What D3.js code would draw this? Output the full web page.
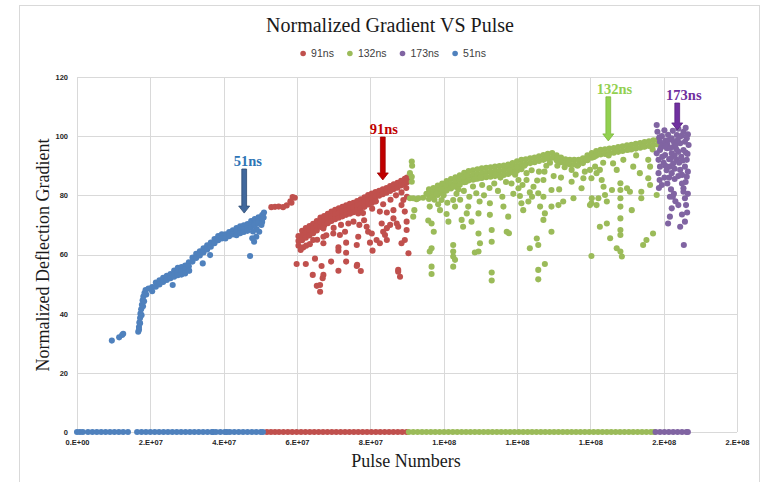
<!DOCTYPE html>
<html><head><meta charset="utf-8">
<script src="https://cdn.jsdelivr.net/npm/d3@7"></script>
<style>body{margin:0;background:#fff}svg{display:block}</style>
</head><body><svg id="c" width="765" height="482"></svg>
<script>
// ---------------- DATA (pulse numbers in millions) ----------------
const xTickValues = [0, 20, 40, 60, 80, 100, 120, 140, 160, 180];
const xTickLabels = ["0.E+00","2.E+07","4.E+07","6.E+07","8.E+07","1.E+08","1.E+08","1.E+08","2.E+08","2.E+08"];
const yTickValues = [0, 20, 40, 60, 80, 100, 120];
const legendNames = ["91ns", "132ns", "173ns", "51ns"];

// points lying on the zero line
const zero51 = [0,0.8,1.6,3.0,4.2,5.4,6.6,7.8,9.0,10.2,11.4,12.6,13.9,16.4,17.6,18.8,20.0,21.2,22.4,23.6,24.8,26.0,27.2,28.4,29.6,30.8,32.0,33.2,34.4,35.6,36.8,37.1,37.9,39.1,40.3,40.9,41.7,42.9,44.1,45.3,46.5,47.7,48.9,50.1,50.7];
const zero91 = [51.8,52.9,54.0,55.1,56.3,57.5,58.7,59.9,61.1,62.3,63.5,64.7,65.9,67.1,68.3,69.5,70.7,71.9,73.1,74.3,75.5,76.7,77.9,79.1,80.3,81.5,82.7,83.9,85.1,86.3,87.5,88.7,89.9];
const zero132 = [90.5,91.7,92.9,94.1,95.3,96.5,97.7,98.9,100.1,101.3,102.5,103.7,104.9,106.1,107.3,108.5,109.7,110.9,112.1,113.3,114.5,115.7,116.9,118.1,119.3,120.5,121.7,122.9,124.1,125.3,126.5,127.7,128.9,130.1,131.3,132.5,133.7,134.9,136.1,137.3,138.5,139.7,140.9,142.1,143.3,144.5,145.7,146.9,148.1,149.3,150.5,151.7,152.9,154.1,155.3,156.5,157.4];
const zero173 = [157.8,159.0,160.2,161.4,162.6,163.8,165.0,166.2,166.6];

// 51ns
const blueBandX = [20.5,21.5,22.5,23.5,24.5,25.5,26.5,27.5,28.5,29.5,30.5,31.5,32.5,33.5,34.5,35.5,36.5,37.5,38.5,39.5,40.5,41.5,42.5,43.5,44.5,45.5,46.5,47.5,48.5,49.5,50.5];
const blueBandRow1 = [49.0,50.5,51.3,52.1,52.8,53.4,54.6,55.5,55.8,56.3,57.4,59.0,60.2,61.1,62.1,63.1,64.0,65.2,66.2,66.8,66.8,67.6,68.2,68.9,69.5,69.9,70.3,71.3,72.0,72.6,73.3];
const blueBandRow2 = [47.6,49.1,49.9,50.7,51.4,52.0,53.2,54.1,54.4,54.9,56.0,57.6,58.8,59.7,60.7,61.7,62.6,63.8,64.8,65.4,65.4,66.2,66.8,67.5,68.1,68.5,68.9,69.9,70.6,71.2,71.9];
const blueOther = [[9.5,30.9],[11.5,32.0],[12.3,32.8],[12.6,33.2],
  [16.7,33.9],[16.9,35.5],[17.0,37.0],[17.2,38.5],[17.3,40.0],[17.5,41.5],[17.7,43.0],[17.9,44.5],[18.1,45.8],[18.4,47.0],[18.7,48.0],[17.6,39.5],[18.0,42.5],[18.3,44.2],[16.9,34.6],[17.2,36.8],[18.9,46.5],[19.5,48.5],
  [26.5,52.5],[27.5,53.0],[28.5,53.2],[29.5,53.6],[30.5,54.6],[43.5,66.5],[44.5,67.2],[45.5,67.6],[46.5,68.0],[47.5,69.2],[48.5,70.0],[49.5,70.5],[50.5,71.0],[50.9,72.5],[51.0,74.2],
  [26.1,49.7],[30.6,54.5],[34.3,57.0],[36.3,59.8],[47.2,59.5],[49.7,67.7],[48.3,64.3],[48.9,66.0],[47.8,65.5],[50.3,70.0],[49.0,68.5],[48.0,67.8]];

// 91ns
const redBandX = [60.4,61.4,62.4,63.4,64.4,65.4,66.4,67.4,68.4,69.4,70.4,71.4,72.4,73.4,74.4,75.4,76.4,77.4,78.4,79.4,80.4,81.4,82.4,83.4,84.4,85.4,86.4,87.4,88.4,89.4,90.0];
const redBandRow1 = [66.2,68.0,68.9,69.6,70.4,71.3,72.5,73.0,73.8,74.5,75.1,75.6,76.1,76.6,77.1,77.5,78.1,78.7,79.3,80.1,80.6,81.1,81.5,82.0,82.5,83.1,83.7,84.2,84.9,85.6,86.0];
const redBandRow2 = [64.6,66.4,67.3,68.0,68.8,69.7,70.9,71.4,72.2,72.9,73.5,74.0,74.5,75.0,75.5,75.9,76.5,77.1,77.7,78.5,79.0,79.5,79.9,80.4,80.9,81.5,82.1,82.6,83.3,84.0,84.4];
const redBandRow3 = [63.0,64.8,65.7,66.4,67.2,68.1,69.3,69.8,70.6,71.3,71.9,72.4,72.9,73.4,73.9,74.3,74.9,75.5,76.1,76.9,77.4,77.9];
const redOther = [[53.0,76.0],[54.0,76.1],[55.0,76.2],[56.2,76.0],[57.2,76.6],[58.2,78.0],[58.8,79.4],[59.4,79.2],[58.5,77.5],
  [61.7,62.4],[59.9,56.8],[62.4,56.8],[64.9,58.6],[64.3,53.1],[66.7,56.1],[67.2,53.1],[67.0,52.0],[65.4,49.4],[66.3,47.4],[69.3,57.6],[71.3,62.4],[71.3,61.3],[73.4,64.0],[73.4,60.6],[73.4,57.6],[71.3,54.5],[76.3,63.2],[76.3,56.1],[77.4,54.4],[80.6,61.3],[79.9,64.0],[81.7,64.9],[82.6,63.8],[84.5,64.9],[87.6,54.8],[88.1,52.5],[89.4,64.9],[89.9,71.1],[87.2,70.5],[85.4,70.0],[89.4,74.5],
  [67.2,68.8],[67.2,66.0],[69.9,67.1],[71.7,66.6],[74.5,73.9],[75.4,71.1],[76.7,73.9],[77.0,70.0],[78.3,71.6],[79.0,69.4],[79.4,67.7],[82.6,74.5],[84.5,74.2],[84.5,68.9],[84.0,66.6],[83.1,70.5],[86.3,75.0],[86.3,72.2],[89.0,78.4],[88.5,76.7],
  [64.4,64.9],[67.2,63.8],[66.3,49.7],[76.4,56.5],[87.6,54.2],[90.4,60.4],[88.5,63.8],[73.1,67.7],[76.7,66.0],[80.4,67.1],[83.5,67.7],[87.6,69.4],[89.9,68.3],
  [61.0,61.5],[62.5,63.0],[63.5,63.5],[65.5,65.0],[68.0,66.5],[70.0,69.0],[72.0,70.0],[74.0,70.5],[78.0,74.0],[80.5,75.5],[81.5,78.0],[83.5,77.0],[85.5,78.5],[87.0,80.0],[88.5,81.0],[89.8,82.5],[90.3,85.0],[90.0,79.5]];

// 132ns
const greenBandX = [96.0,97.2,98.4,99.6,100.8,102.0,103.2,104.4,105.6,106.8,108.0,109.2,110.4,111.6,112.8,114.0,115.2,116.4,117.6,118.8,120.0,121.2,122.4,123.6,124.8,126.0,127.2,128.4,129.6,130.8,132.0,133.2,134.4,135.6,136.8,138.0,139.2,140.4,141.6,142.8,144.0,145.2,146.4,147.6,148.8,150.0,151.2,152.4,153.6,154.8,156.0,157.2,158.4];
const greenBandRow1 = [82.0,82.5,83.3,84.0,84.8,85.5,86.1,86.8,87.6,88.2,88.5,88.8,89.1,89.3,89.5,89.7,89.9,90.1,90.4,90.9,91.5,92.0,92.2,92.5,92.8,93.2,93.6,94.0,94.3,93.5,92.8,92.2,92.0,92.0,92.0,92.5,93.5,94.3,95.0,95.4,95.6,95.8,96.0,96.3,96.6,96.9,97.1,97.4,97.7,98.0,98.3,98.6,98.8];
const greenBandRow2 = [80.4,80.9,81.7,82.4,83.2,83.9,84.5,85.2,86.0,86.6,86.9,87.2,87.5,87.7,87.9,88.1,88.3,88.5,88.8,89.3,89.9,90.4,90.6,90.9,91.2,91.6,92.0,92.4,92.7,91.9,91.2,90.6,90.4,90.4,90.4,90.9,91.9,92.7,93.4,93.8,94.0,94.2,94.4,94.7,95.0,95.3,95.5,95.8,96.1,96.4,96.7,97.0,97.2];
const greenBandRow3 = [78.8,79.3,80.1,80.8,81.6,82.3,82.9,83.6,84.4,85.0,85.3,85.6,85.9,86.1,86.3,86.5,86.7,86.9,87.2,87.7,88.3,88.8];
const greenOther = [[91.3,91.4],[91.4,90.0],[90.8,87.5],[91.3,84.6],[91.3,86.3],[92.6,78.7],[90.8,79.0],[92.0,75.0],[91.7,72.8],[91.7,79.0],[93.1,79.0],[94.4,79.2],[95.3,80.5],
  [96.2,76.2],[96.7,70.5],[95.8,71.5],[97.3,67.7],[96.7,62.1],[96.2,61.0],[96.7,55.9],[96.7,53.4],[99.4,78.4],[99.0,75.0],[100.8,73.7],[101.3,71.1],[102.6,78.4],[103.1,76.2],[102.6,63.2],[102.6,61.0],[102.6,59.3],[103.1,58.2],[102.6,55.9],[104.9,71.7],[105.3,69.4],[106.3,73.9],[106.7,76.2],[107.6,71.1],[108.9,80.7],[109.8,77.9],[109.5,73.9],[109.5,67.1],[108.5,60.7],[109.5,61.0],[109.9,63.8],[112.6,77.3],[112.6,73.4],[113.1,68.3],[113.1,64.3],[113.1,53.9],[113.1,51.2],[116.3,76.2],[117.6,72.8],[117.2,67.7],[117.8,67.2],[120.4,85.2],[120.4,82.4],[120.8,79.8],[121.2,77.3],[121.7,75.0],[123.1,77.9],[122.6,87.5],[122.6,85.2],[124.5,82.9],[124.1,79.5],[125.8,80.7],[126.3,76.2],[127.2,85.2],[127.2,79.5],[127.6,73.9],[127.2,71.7],[125.4,65.4],[125.8,63.2],[123.5,62.1],[125.8,54.8],[125.8,51.6],[127.6,56.8],[129.4,81.8],[129.4,76.2],[129.4,67.7],[131.3,76.7],[132.6,77.9],[134.9,88.6],[134.9,84.6],[135.4,79.0],[137.6,82.4],[139.9,88.6],[140.3,85.8],[140.3,77.3],[140.3,59.5],[141.7,87.5],
  [138.1,85.8],[140.4,79.0],[139.9,76.7],[141.3,89.7],[142.2,79.0],[141.7,76.7],[142.6,88.6],[143.1,85.2],[143.6,82.9],[144.0,80.1],[144.5,77.9],[142.6,69.4],[144.5,70.5],[145.4,65.5],[146.2,90.8],[145.9,81.8],[147.2,88.6],[148.2,84.1],[148.2,81.8],[148.2,79.0],[148.2,76.2],[148.2,72.2],[148.2,68.3],[148.2,66.6],[147.2,62.1],[148.2,61.0],[148.6,59.3],[149.0,92.0],[150.0,82.4],[150.8,81.2],[151.7,89.7],[151.3,75.0],[153.5,87.5],[153.9,81.2],[153.9,79.0],[154.4,63.2],[155.3,64.9],[157.1,67.1],[155.8,92.0],[156.3,89.7],[155.8,85.8],[156.3,83.5],[158.1,80.1],
  [98.0,80.5],[98.5,77.0],[100.0,80.0],[101.0,77.5],[103.5,80.5],[104.5,78.5],[105.5,81.5],[107.0,79.5],[108.0,83.0],[110.5,83.5],[111.0,80.0],[111.5,86.5],[113.8,84.0],[114.8,81.5],[115.5,86.0],[116.0,79.5],[118.5,84.0],[119.0,80.5],[119.5,87.0],[121.5,83.5],[123.5,81.0],[126.0,88.0],[128.0,90.0],[130.0,86.5],[131.5,82.0],[133.0,89.5],[136.5,90.0],[138.5,88.0],
  [97.5,78.5],[99.5,82.0],[102.5,83.0],[104.0,82.0],[106.0,84.5],[108.5,85.5],[110.0,86.0],[112.5,82.5],[114.0,87.0],[117.0,84.5],[118.0,88.5],[120.0,89.5],[122.0,90.0],[124.0,88.5],[125.5,85.0],[127.5,88.0],[129.0,91.0],[131.0,90.0],[132.0,86.0],[134.0,91.0],[136.0,87.0],[139.0,92.0],[141.0,93.0],[143.5,91.0],[145.0,93.5],[147.0,95.0],[150.5,95.5],[152.5,93.5],[154.5,96.5],[157.0,95.5]];

// 173ns
const purplePoints = [[158.1,103.8],[158.3,101.5],[159.0,98.1],[159.0,95.3],[158.6,92.0],[159.0,89.7],[158.6,87.5],[158.9,85.2],[161.4,98.7],[162.2,99.3],[163.6,100.4],[165.4,101.5],[166.3,99.3],[165.8,98.1],[164.5,97.6],[162.7,96.4],[160.9,95.9],[160.4,93.6],[162.2,94.2],[164.0,94.7],[165.4,95.3],[161.7,89.7],[162.2,87.5],[163.6,92.0],[164.5,88.6],[165.0,86.9],[166.3,92.0],[165.8,89.7],[166.3,86.3],[165.4,82.4],[165.4,81.2],[161.7,79.5],[162.5,79.5],[164.0,76.7],[162.2,75.6],[161.7,72.8],[161.2,70.5],[164.5,69.4],[165.8,71.1],[166.1,76.7],[165.5,63.2],[158.1,94.2],
  [159.8,97.0],[160.5,98.5],[161.0,97.2],[161.8,96.0],[162.8,98.0],[163.2,96.8],[163.8,98.6],[164.4,99.8],[165.0,100.2],[166.6,100.6],[166.8,97.0],[166.0,94.5],[163.0,93.5],[161.5,92.2],[160.0,91.0],[159.6,93.0],[160.8,88.5],[162.6,90.8],[164.2,91.0],[165.2,91.8],[166.6,88.0],[160.2,86.0],[161.0,84.0],[159.5,83.5],[166.0,84.5],[165.0,84.0],[163.0,85.5],[162.0,82.0],[166.6,80.5],[158.7,82.5],[165.0,73.5],[166.4,74.2],[163.2,78.0],[159.3,96.2],
  [159.5,100.0],[160.2,102.0],[161.2,100.5],[162.5,101.8],[164.0,102.5],[166.0,102.8],[158.8,99.5],[160.5,96.8],[163.5,95.5],[164.8,93.0],[166.5,94.0],[162.0,92.5],[160.5,90.0],[163.0,89.0],[164.0,86.5],[161.5,86.0],[165.8,79.0],[162.8,80.5]];

// arrow annotations (data units)
const annotLabels = ["51ns", "91ns", "132ns", "173ns"];
const annotX      = [45.6, 83.4, 144.9, 163.7];
const annotTextX  = [46.6, 83.7, 146.6, 165.5];
const annotYTop   = [88.9, 99.7, 113.3, 111.2];
const annotYTip   = [74.0, 85.2, 98.4, 102.1];

// ---------------- STYLE ----------------
const seriesColors = {"91ns":"#C0504D","132ns":"#9BBB59","173ns":"#8064A2","51ns":"#4F81BD"};
const annotFill   = ["#41689C","#C00000","#92D050","#7030A0"];
const annotStroke = ["#2C4A72","#9E0000","#7DB83E","#5A2382"];
const annotText   = ["#2E75B6","#C00000","#92D050","#7030A0"];

// ---------------- BUILD ----------------
function zipRows(xs, ...rows) {
  const out = [];
  rows.forEach(r => r.forEach((v, i) => out.push([xs[i], v])));
  return out;
}
const series = [
  {name:"91ns",  pts: zero91.map(v=>[v,0]).concat(zipRows(redBandX, redBandRow1, redBandRow2, redBandRow3), redOther)},
  {name:"132ns", pts: zero132.map(v=>[v,0]).concat(zipRows(greenBandX, greenBandRow1, greenBandRow2, greenBandRow3), greenOther)},
  {name:"173ns", pts: zero173.map(v=>[v,0]).concat(purplePoints)},
  {name:"51ns",  pts: zero51.map(v=>[v,0]).concat(zipRows(blueBandX, blueBandRow1, blueBandRow2), blueOther)}
];

const svg = d3.select("#c");
svg.append("rect").attr("width",765).attr("height",482).attr("fill","#fff");
svg.append("rect").attr("x",19.5).attr("y",5.5).attr("width",740).attr("height",520)
  .attr("fill","none").attr("stroke","#d9d9d9");

const x = d3.scaleLinear().domain([0, 180]).range([77, 737]);
const y = d3.scaleLinear().domain([0, 120]).range([432, 77]);
const px = v => Math.round(v) + 0.5;

// gridlines
const grid = svg.append("g").attr("stroke","#d9d9d9").attr("stroke-width",1);
yTickValues.forEach(t => grid.append("line").attr("x1",x(0)).attr("x2",x(180)).attr("y1",px(y(t))).attr("y2",px(y(t))));
xTickValues.forEach(t => grid.append("line").attr("x1",px(x(t))).attr("x2",px(x(t))).attr("y1",y(0)).attr("y2",y(120)));

// axes
const xAxis = d3.axisBottom(x).tickValues(xTickValues).tickFormat((d,i)=>xTickLabels[i]).tickSize(0).tickPadding(8);
const gx = svg.append("g").attr("transform",`translate(0,${y(0)})`).call(xAxis);
const yAxis = d3.axisLeft(y).tickValues(yTickValues).tickFormat(d3.format("d")).tickSize(0).tickPadding(9);
const gy = svg.append("g").attr("transform",`translate(${x(0)},0)`).call(yAxis);
[gx, gy].forEach(g => {
  g.select(".domain").remove();
  g.selectAll("text").attr("font-family","'Liberation Sans', Arial, sans-serif")
    .attr("font-size","7.5px").attr("font-weight","bold").attr("fill","#262626");
});

// points
series.forEach(s => {
  svg.append("g").attr("fill", seriesColors[s.name])
    .selectAll("circle").data(s.pts).join("circle")
    .attr("cx", d => x(d[0])).attr("cy", d => y(d[1])).attr("r", 3.05);
});

// annotations
annotLabels.forEach((lab, i) => {
  const ax = x(annotX[i]), yt = y(annotYTop[i]), yb = y(annotYTip[i]);
  const sw = 2.4, hw = 5.5, hl = 7;
  const poly = [[ax-sw,yt],[ax+sw,yt],[ax+sw,yb-hl],[ax+hw,yb-hl],[ax,yb],[ax-hw,yb-hl],[ax-sw,yb-hl]];
  svg.append("polygon").attr("points", poly.map(p=>p.join(",")).join(" "))
    .attr("fill", annotFill[i]).attr("stroke", annotStroke[i]).attr("stroke-width",0.8);
  svg.append("text").attr("x", x(annotTextX[i])).attr("y", yt - 3)
    .attr("text-anchor","middle").attr("font-family","'Liberation Serif', 'Times New Roman', serif")
    .attr("font-weight","bold").attr("font-size","14.5px").attr("fill", annotText[i]).text(lab);
});

// title
svg.append("text").attr("x",390).attr("y",32).attr("text-anchor","middle")
  .attr("font-family","'Liberation Serif', 'Times New Roman', serif").attr("font-size","20px")
  .attr("fill","#1a1a1a").text("Normalized Gradient VS Pulse");

// legend
const lg = svg.append("g");
let cx = 0;
legendNames.forEach(n => {
  const g = lg.append("g").attr("transform",`translate(${cx},0)`);
  g.append("circle").attr("cx",3).attr("cy",0).attr("r",2.8).attr("fill",seriesColors[n]);
  const t = g.append("text").attr("x",11).attr("y",3.8)
    .attr("font-family","'Liberation Sans', Arial, sans-serif").attr("font-size","10.5px")
    .attr("fill","#404040").text(n);
  cx += 11 + t.node().getComputedTextLength() + 13;
});
const lw = cx - 13;
lg.attr("transform",`translate(${393 - lw/2},53.5)`);

// axis titles
svg.append("text").attr("transform","translate(49,255) rotate(-90)").attr("text-anchor","middle")
  .attr("font-family","'Liberation Serif', 'Times New Roman', serif").attr("font-size","18px")
  .attr("fill","#1a1a1a").text("Normalized Deflection Gradient");
svg.append("text").attr("x",406).attr("y",467).attr("text-anchor","middle")
  .attr("font-family","'Liberation Serif', 'Times New Roman', serif").attr("font-size","18px")
  .attr("fill","#1a1a1a").text("Pulse Numbers");
</script></body></html>
